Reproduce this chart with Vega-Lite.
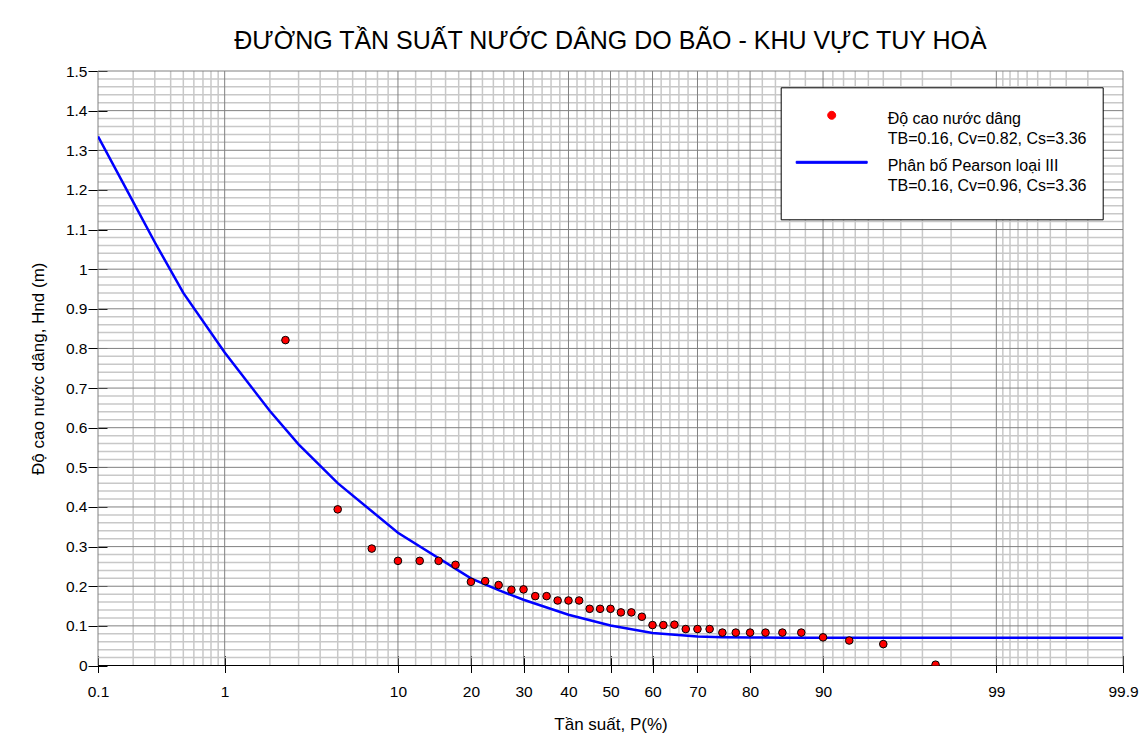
{
  "$schema": "https://vega.github.io/schema/vega-lite/v6.json",
  "width": 1025,
  "height": 594.5,
  "autosize": {"type": "none"},
  "padding": {"left": 98, "top": 71, "right": 20, "bottom": 74.5},
  "background": "white",
  "title": {
    "text": "ĐƯỜNG TẦN SUẤT NƯỚC DÂNG DO BÃO - KHU VỰC TUY HOÀ",
    "fontSize": 25,
    "fontWeight": "normal",
    "font": "Liberation Sans",
    "color": "black",
    "anchor": "middle",
    "baseline": "alphabetic",
    "offset": 21,
    "dy": 31
  },
  "datasets": {
    "minorX": [
      {"p": 0.2}, {"p": 0.3}, {"p": 0.4}, {"p": 0.5}, {"p": 0.6}, {"p": 0.7}, {"p": 0.8}, {"p": 0.9},
      {"p": 2}, {"p": 3}, {"p": 4}, {"p": 5}, {"p": 6}, {"p": 7}, {"p": 8}, {"p": 9},
      {"p": 12}, {"p": 14}, {"p": 16}, {"p": 18}, {"p": 22}, {"p": 24}, {"p": 26}, {"p": 28},
      {"p": 32}, {"p": 34}, {"p": 36}, {"p": 38}, {"p": 42}, {"p": 44}, {"p": 46}, {"p": 48},
      {"p": 52}, {"p": 54}, {"p": 56}, {"p": 58}, {"p": 62}, {"p": 64}, {"p": 66}, {"p": 68},
      {"p": 72}, {"p": 74}, {"p": 76}, {"p": 78}, {"p": 82}, {"p": 84}, {"p": 86}, {"p": 88},
      {"p": 91}, {"p": 92}, {"p": 93}, {"p": 94}, {"p": 95}, {"p": 96}, {"p": 97}, {"p": 98},
      {"p": 99.1}, {"p": 99.2}, {"p": 99.3}, {"p": 99.4}, {"p": 99.5}, {"p": 99.6}, {"p": 99.7}, {"p": 99.8}
    ],
    "majorX": [
      {"p": 0.1}, {"p": 1}, {"p": 10}, {"p": 20}, {"p": 30}, {"p": 40}, {"p": 50},
      {"p": 60}, {"p": 70}, {"p": 80}, {"p": 90}, {"p": 99}, {"p": 99.9}
    ],
    "minorY": [
      {"h": 0.02}, {"h": 0.04}, {"h": 0.06}, {"h": 0.08}, {"h": 0.12}, {"h": 0.14}, {"h": 0.16}, {"h": 0.18},
      {"h": 0.22}, {"h": 0.24}, {"h": 0.26}, {"h": 0.28}, {"h": 0.32}, {"h": 0.34}, {"h": 0.36}, {"h": 0.38},
      {"h": 0.42}, {"h": 0.44}, {"h": 0.46}, {"h": 0.48}, {"h": 0.52}, {"h": 0.54}, {"h": 0.56}, {"h": 0.58},
      {"h": 0.62}, {"h": 0.64}, {"h": 0.66}, {"h": 0.68}, {"h": 0.72}, {"h": 0.74}, {"h": 0.76}, {"h": 0.78},
      {"h": 0.82}, {"h": 0.84}, {"h": 0.86}, {"h": 0.88}, {"h": 0.92}, {"h": 0.94}, {"h": 0.96}, {"h": 0.98},
      {"h": 1.02}, {"h": 1.04}, {"h": 1.06}, {"h": 1.08}, {"h": 1.12}, {"h": 1.14}, {"h": 1.16}, {"h": 1.18},
      {"h": 1.22}, {"h": 1.24}, {"h": 1.26}, {"h": 1.28}, {"h": 1.32}, {"h": 1.34}, {"h": 1.36}, {"h": 1.38},
      {"h": 1.42}, {"h": 1.44}, {"h": 1.46}, {"h": 1.48}
    ],
    "majorY": [
      {"h": 0.1}, {"h": 0.2}, {"h": 0.3}, {"h": 0.4}, {"h": 0.5}, {"h": 0.6}, {"h": 0.7}, {"h": 0.8},
      {"h": 0.9}, {"h": 1.0}, {"h": 1.1}, {"h": 1.2}, {"h": 1.3}, {"h": 1.4}, {"h": 1.5}, {"h": 0}
    ],
    "curve": [
      {"p": 0.1, "h": 1.335, "s": "Phân bố Pearson loại III"},
      {"p": 0.2, "h": 1.17, "s": "Phân bố Pearson loại III"},
      {"p": 0.3, "h": 1.068, "s": "Phân bố Pearson loại III"},
      {"p": 0.5, "h": 0.94, "s": "Phân bố Pearson loại III"},
      {"p": 1, "h": 0.79, "s": "Phân bố Pearson loại III"},
      {"p": 2, "h": 0.642, "s": "Phân bố Pearson loại III"},
      {"p": 3, "h": 0.558, "s": "Phân bố Pearson loại III"},
      {"p": 5, "h": 0.46, "s": "Phân bố Pearson loại III"},
      {"p": 10, "h": 0.335, "s": "Phân bố Pearson loại III"},
      {"p": 20, "h": 0.22, "s": "Phân bố Pearson loại III"},
      {"p": 25, "h": 0.19, "s": "Phân bố Pearson loại III"},
      {"p": 30, "h": 0.166, "s": "Phân bố Pearson loại III"},
      {"p": 40, "h": 0.128, "s": "Phân bố Pearson loại III"},
      {"p": 50, "h": 0.101, "s": "Phân bố Pearson loại III"},
      {"p": 60, "h": 0.082, "s": "Phân bố Pearson loại III"},
      {"p": 70, "h": 0.073, "s": "Phân bố Pearson loại III"},
      {"p": 75, "h": 0.0715, "s": "Phân bố Pearson loại III"},
      {"p": 80, "h": 0.0705, "s": "Phân bố Pearson loại III"},
      {"p": 85, "h": 0.0702, "s": "Phân bố Pearson loại III"},
      {"p": 90, "h": 0.07, "s": "Phân bố Pearson loại III"},
      {"p": 95, "h": 0.07, "s": "Phân bố Pearson loại III"},
      {"p": 97, "h": 0.07, "s": "Phân bố Pearson loại III"},
      {"p": 99, "h": 0.07, "s": "Phân bố Pearson loại III"},
      {"p": 99.9, "h": 0.07, "s": "Phân bố Pearson loại III"}
    ],
    "obs": [
      {"p": 2.5, "h": 0.821, "s": "Độ cao nước dâng"},
      {"p": 5, "h": 0.394, "s": "Độ cao nước dâng"},
      {"p": 7.5, "h": 0.295, "s": "Độ cao nước dâng"},
      {"p": 10, "h": 0.264, "s": "Độ cao nước dâng"},
      {"p": 12.5, "h": 0.264, "s": "Độ cao nước dâng"},
      {"p": 15, "h": 0.264, "s": "Độ cao nước dâng"},
      {"p": 17.5, "h": 0.254, "s": "Độ cao nước dâng"},
      {"p": 20, "h": 0.211, "s": "Độ cao nước dâng"},
      {"p": 22.5, "h": 0.213, "s": "Độ cao nước dâng"},
      {"p": 25, "h": 0.203, "s": "Độ cao nước dâng"},
      {"p": 27.5, "h": 0.191, "s": "Độ cao nước dâng"},
      {"p": 30, "h": 0.192, "s": "Độ cao nước dâng"},
      {"p": 32.5, "h": 0.175, "s": "Độ cao nước dâng"},
      {"p": 35, "h": 0.175, "s": "Độ cao nước dâng"},
      {"p": 37.5, "h": 0.164, "s": "Độ cao nước dâng"},
      {"p": 40, "h": 0.164, "s": "Độ cao nước dâng"},
      {"p": 42.5, "h": 0.164, "s": "Độ cao nước dâng"},
      {"p": 45, "h": 0.143, "s": "Độ cao nước dâng"},
      {"p": 47.5, "h": 0.143, "s": "Độ cao nước dâng"},
      {"p": 50, "h": 0.143, "s": "Độ cao nước dâng"},
      {"p": 52.5, "h": 0.134, "s": "Độ cao nước dâng"},
      {"p": 55, "h": 0.134, "s": "Độ cao nước dâng"},
      {"p": 57.5, "h": 0.123, "s": "Độ cao nước dâng"},
      {"p": 60, "h": 0.102, "s": "Độ cao nước dâng"},
      {"p": 62.5, "h": 0.102, "s": "Độ cao nước dâng"},
      {"p": 65, "h": 0.103, "s": "Độ cao nước dâng"},
      {"p": 67.5, "h": 0.092, "s": "Độ cao nước dâng"},
      {"p": 70, "h": 0.092, "s": "Độ cao nước dâng"},
      {"p": 72.5, "h": 0.092, "s": "Độ cao nước dâng"},
      {"p": 75, "h": 0.083, "s": "Độ cao nước dâng"},
      {"p": 77.5, "h": 0.083, "s": "Độ cao nước dâng"},
      {"p": 80, "h": 0.083, "s": "Độ cao nước dâng"},
      {"p": 82.5, "h": 0.083, "s": "Độ cao nước dâng"},
      {"p": 85, "h": 0.083, "s": "Độ cao nước dâng"},
      {"p": 87.5, "h": 0.083, "s": "Độ cao nước dâng"},
      {"p": 90, "h": 0.071, "s": "Độ cao nước dâng"},
      {"p": 92.5, "h": 0.063, "s": "Độ cao nước dâng"},
      {"p": 95, "h": 0.054, "s": "Độ cao nước dâng"},
      {"p": 97.5, "h": 0.002, "s": "Độ cao nước dâng"}
    ]
  },
  "layer": [
    {
      "data": {"name": "minorX"},
      "transform": [{"calculate": "quantileNormal(datum.p / 100)", "as": "z"}],
      "mark": {"type": "rule", "color": "#c8c8c8", "strokeWidth": 1.5},
      "encoding": {
        "x": {
          "field": "z", "type": "quantitative",
          "scale": {"domain": [-3.0902323, 3.0902323], "nice": false, "zero": false},
          "axis": {
            "title": "Tần suất, P(%)",
            "values": [-3.0902323, -2.3263479, -1.2815516, -0.8416212, -0.5244005, -0.2533471, 0, 0.2533471, 0.5244005, 0.8416212, 1.2815516, 2.3263479, 3.0902323],
            "labelExpr": "format(cumulativeNormal(datum.value) * 100, '.3~r')",
            "grid": false, "domain": false, "offset": -10, "tickSize": 17, "tickColor": "#000000",
            "labelFontSize": 15.5, "labelPadding": 12, "labelFlush": false, "labelOverlap": false,
            "titleFontSize": 17, "titleFontWeight": "normal", "titlePadding": 16
          }
        }
      }
    },
    {
      "data": {"name": "minorY"},
      "mark": {"type": "rule", "color": "#c8c8c8", "strokeWidth": 1.5},
      "encoding": {
        "y": {
          "field": "h", "type": "quantitative",
          "scale": {"domain": [0, 1.5], "nice": false, "zero": false},
          "axis": {
            "title": "Độ cao nước dâng, Hnd (m)",
            "values": [0, 0.1, 0.2, 0.3, 0.4, 0.5, 0.6, 0.7, 0.8, 0.9, 1, 1.1, 1.2, 1.3, 1.4, 1.5],
            "format": ".1~f",
            "grid": false, "domain": false, "offset": -9, "tickSize": 19, "tickColor": "#000000",
            "labelFontSize": 15.5, "labelPadding": 1, "labelOverlap": false,
            "titleFontSize": 17, "titleFontWeight": "normal", "titlePadding": 18
          }
        }
      }
    },
    {
      "data": {"name": "majorX"},
      "transform": [{"calculate": "quantileNormal(datum.p / 100)", "as": "z"}],
      "mark": {"type": "rule", "color": "#808080", "strokeWidth": 1},
      "encoding": {
        "x": {
          "field": "z", "type": "quantitative",
          "scale": {"domain": [-3.0902323, 3.0902323], "nice": false, "zero": false},
          "axis": {
            "title": "Tần suất, P(%)",
            "values": [-3.0902323, -2.3263479, -1.2815516, -0.8416212, -0.5244005, -0.2533471, 0, 0.2533471, 0.5244005, 0.8416212, 1.2815516, 2.3263479, 3.0902323],
            "labelExpr": "format(cumulativeNormal(datum.value) * 100, '.3~r')",
            "grid": false, "domain": false, "offset": -10, "tickSize": 17, "tickColor": "#000000",
            "labelFontSize": 15.5, "labelPadding": 12, "labelFlush": false, "labelOverlap": false,
            "titleFontSize": 17, "titleFontWeight": "normal", "titlePadding": 16
          }
        }
      }
    },
    {
      "data": {"name": "majorY"},
      "mark": {"type": "rule", "strokeWidth": 1},
      "encoding": {
        "y": {
          "field": "h", "type": "quantitative",
          "scale": {"domain": [0, 1.5], "nice": false, "zero": false},
          "axis": {
            "title": "Độ cao nước dâng, Hnd (m)",
            "values": [0, 0.1, 0.2, 0.3, 0.4, 0.5, 0.6, 0.7, 0.8, 0.9, 1, 1.1, 1.2, 1.3, 1.4, 1.5],
            "format": ".1~f",
            "grid": false, "domain": false, "offset": -9, "tickSize": 19, "tickColor": "#000000",
            "labelFontSize": 15.5, "labelPadding": 1, "labelOverlap": false,
            "titleFontSize": 17, "titleFontWeight": "normal", "titlePadding": 18
          }
        },
        "color": {"condition": {"test": "datum.h === 0", "value": "#000000"}, "value": "#808080"}
      }
    },
    {
      "data": {"name": "curve"},
      "transform": [{"calculate": "quantileNormal(datum.p / 100)", "as": "z"}],
      "mark": {"type": "line", "strokeWidth": 2.5, "clip": true},
      "encoding": {
        "x": {
          "field": "z", "type": "quantitative",
          "scale": {"domain": [-3.0902323, 3.0902323], "nice": false, "zero": false},
          "axis": {
            "title": "Tần suất, P(%)",
            "values": [-3.0902323, -2.3263479, -1.2815516, -0.8416212, -0.5244005, -0.2533471, 0, 0.2533471, 0.5244005, 0.8416212, 1.2815516, 2.3263479, 3.0902323],
            "labelExpr": "format(cumulativeNormal(datum.value) * 100, '.3~r')",
            "grid": false, "domain": false, "offset": -10, "tickSize": 17, "tickColor": "#000000",
            "labelFontSize": 15.5, "labelPadding": 12, "labelFlush": false, "labelOverlap": false,
            "titleFontSize": 17, "titleFontWeight": "normal", "titlePadding": 16
          }
        },
        "y": {
          "field": "h", "type": "quantitative",
          "scale": {"domain": [0, 1.5], "nice": false, "zero": false},
          "axis": {
            "title": "Độ cao nước dâng, Hnd (m)",
            "values": [0, 0.1, 0.2, 0.3, 0.4, 0.5, 0.6, 0.7, 0.8, 0.9, 1, 1.1, 1.2, 1.3, 1.4, 1.5],
            "format": ".1~f",
            "grid": false, "domain": false, "offset": -9, "tickSize": 19, "tickColor": "#000000",
            "labelFontSize": 15.5, "labelPadding": 1, "labelOverlap": false,
            "titleFontSize": 17, "titleFontWeight": "normal", "titlePadding": 18
          }
        },
        "color": {"field": "s", "type": "nominal", "scale": {"domain": ["Độ cao nước dâng", "Phân bố Pearson loại III"], "range": ["#ff0000", "#0000ff"]}}
      }
    },
    {
      "data": {"name": "obs"},
      "transform": [{"calculate": "quantileNormal(datum.p / 100)", "as": "z"}],
      "mark": {"type": "point", "filled": true, "size": 58, "stroke": "#000000", "strokeWidth": 1, "opacity": 1, "clip": true},
      "encoding": {
        "x": {
          "field": "z", "type": "quantitative",
          "scale": {"domain": [-3.0902323, 3.0902323], "nice": false, "zero": false},
          "axis": {
            "title": "Tần suất, P(%)",
            "values": [-3.0902323, -2.3263479, -1.2815516, -0.8416212, -0.5244005, -0.2533471, 0, 0.2533471, 0.5244005, 0.8416212, 1.2815516, 2.3263479, 3.0902323],
            "labelExpr": "format(cumulativeNormal(datum.value) * 100, '.3~r')",
            "grid": false, "domain": false, "offset": -10, "tickSize": 17, "tickColor": "#000000",
            "labelFontSize": 15.5, "labelPadding": 12, "labelFlush": false, "labelOverlap": false,
            "titleFontSize": 17, "titleFontWeight": "normal", "titlePadding": 16
          }
        },
        "y": {
          "field": "h", "type": "quantitative",
          "scale": {"domain": [0, 1.5], "nice": false, "zero": false},
          "axis": {
            "title": "Độ cao nước dâng, Hnd (m)",
            "values": [0, 0.1, 0.2, 0.3, 0.4, 0.5, 0.6, 0.7, 0.8, 0.9, 1, 1.1, 1.2, 1.3, 1.4, 1.5],
            "format": ".1~f",
            "grid": false, "domain": false, "offset": -9, "tickSize": 19, "tickColor": "#000000",
            "labelFontSize": 15.5, "labelPadding": 1, "labelOverlap": false,
            "titleFontSize": 17, "titleFontWeight": "normal", "titlePadding": 18
          }
        },
        "color": {
          "field": "s", "type": "nominal",
          "scale": {"domain": ["Độ cao nước dâng", "Phân bố Pearson loại III"], "range": ["#ff0000", "#0000ff"]},
          "legend": {
            "title": null,
            "orient": "none",
            "legendX": 682.7,
            "legendY": 16.3,
            "padding": 16,
            "fillColor": "white",
            "strokeColor": "black",
            "symbolSize": 100,
            "symbolStrokeWidth": 1,
            "symbolStrokeColor": {"expr": "datum.value === 'Độ cao nước dâng' ? '#000000' : '#0000ff'"},
            "symbolType": {"expr": "datum.value === 'Độ cao nước dâng' ? 'M0.8,0.8A0.8,0.8,0,1,1,-0.8,0.8A0.8,0.8,0,1,1,0.8,0.8Z' : 'M-7.1,0.6L7.1,0.6L7.1,1.0L-7.1,1.0ZM0,8.6'"},
            "symbolOffset": 27,
            "labelOffset": 48,
            "labelLimit": 500,
            "labelFontSize": 16,
            "labelBaseline": "top",
            "labelExpr": "datum.label === 'Độ cao nước dâng' ? ['Độ cao nước dâng', 'TB=0.16, Cv=0.82, Cs=3.36'] : ['Phân bố Pearson loại III', 'TB=0.16, Cv=0.96, Cs=3.36']",
            "rowPadding": 3
          }
        }
      }
    }
  ],
  "config": {
    "font": "Liberation Sans",
    "view": {"stroke": null},
    "axis": {"labelColor": "#000000", "titleColor": "#000000", "labelFont": "Liberation Sans", "titleFont": "Liberation Sans"},
    "legend": {"labelColor": "#000000", "labelFont": "Liberation Sans"},
    "style": {"guide-label": {"lineHeight": 20}}
  }
}
